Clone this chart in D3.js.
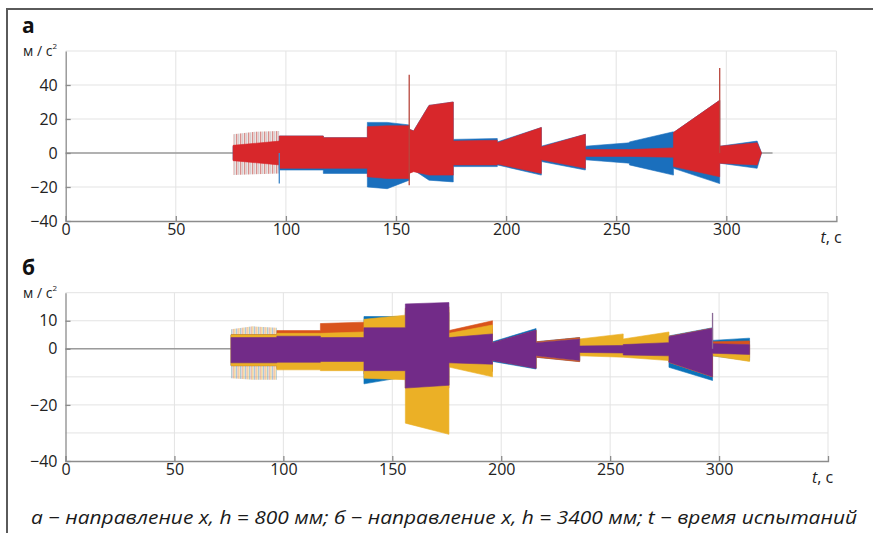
<!DOCTYPE html>
<meta charset="utf-8">
<style>
    body { margin: 0; background: #fff; }
    svg { display: block; font-family: "Open Sans", sans-serif; }
    .grid line { stroke: #e3e3e3; stroke-width: 1; }
    .axis path, .axis line { stroke: #8c8c8c; stroke-width: 1.3; }
    .axis text { font-size: 16px; fill: #222; font-family: "Open Sans", sans-serif; }
</style>
<body>
<svg width="873" height="533"></svg>
<script src="https://d3js.org/d3.v7.min.js"></script>
<script>
    // ---- panel a : x direction, h = 800 mm ----
    const tA      = [76, 97, 97, 117, 117, 137, 137, 146, 156, 156, 158, 165, 176, 176, 196, 196, 216, 216, 236, 236, 256, 256, 276, 276, 297, 297, 314, 316];
    const blueHiA = [4, 6, 10, 10, 9, 9, 18, 18, 16.5, 14, 13, 28, 30, 8, 8.5, 6.5, 15, 4, 11, 4, 6, 6.5, 12.5, 12, 31, 4, 7, 0];
    const blueLoA = [-4, -6, -10, -10, -12, -12, -20, -21, -16, -12, -10, -16, -17, -8, -8, -7, -13, -5, -10, -4, -6, -7, -13, -9, -18, -6, -9, 0];
    const redHiA  = [4.5, 7, 10, 10, 9, 9, 15.5, 16, 16, 14, 13, 28, 30, 7, 7.5, 6, 15, 3.5, 11, 2, 2, 2, 3, 12, 31, 4, 6, 0];
    const redLoA  = [-4.5, -7, -9, -9, -9, -9, -14, -15, -15, -12, -11, -13, -13, -7, -7, -6.5, -12, -4, -9, -2, -2, -2, -2.5, -8, -14, -6, -7, 0];
    // sparse spiky start of the record
    const burstTA  = [76, 86, 97];
    const burstHiA = [11, 12.5, 13];
    const burstLoA = [-13, -12.5, -12];
    // single spikes
    const spikeTA   = [97, 156, 297];
    const spikeHiA  = [0, 46, 50];
    const spikeLoA  = [-18, -19, 0];
    const spikeSerA = ["blue", "red", "red"];
    const ticksXA = [0, 50, 100, 150, 200, 250, 300];
    const ticksYA = [-40, -20, 0, 20, 40];

    // ---- panel b : x direction, h = 3400 mm ----
    const tB        = [76, 97, 97, 117, 117, 137, 137, 156, 156, 176, 176, 196, 196, 216, 216, 236, 236, 256, 256, 277, 277, 297, 297, 314];
    const blueHiB   = [5, 5, 5, 5, 5, 5.5, 11.5, 11.5, 13, 13, 5, 7, 2.5, 7.2, 2.5, 4, 2, 2.5, 2, 3, 4.6, 7.5, 3, 3.8];
    const blueLoB   = [-6, -6, -6, -6, -6, -6, -12.5, -10, -14, -13, -6, -8, -4.5, -7.2, -3, -4.5, -2, -2.5, -2.5, -3, -6.6, -11.3, -2.5, -4.2];
    const orangeHiB = [5, 5, 6.5, 6.5, 9, 9.5, 9, 9, 14.5, 15, 6.5, 10, 2, 6.5, 2.5, 4, 1.5, 2, 2, 2.5, 4.4, 7.3, 2.5, 2.8];
    const orangeLoB = [-6, -6, -7, -7, -7, -7, -9, -9, -14, -14, -6, -8, -4, -6.8, -3, -4.6, -2, -2, -2.2, -2.5, -4.8, -10, -2, -3.2];
    const yellowHiB = [5, 5, 5.5, 5.5, 5.5, 6, 10.5, 12, 14, 14, 5.5, 8.5, 2, 6.5, 2.2, 3.5, 3.5, 5.3, 3.5, 6, 4.4, 7.3, 1.5, 1.5];
    const yellowLoB = [-6, -6, -7.5, -7.5, -7.8, -7.8, -10.5, -11, -26.5, -30.5, -6.5, -10, -4, -6.8, -2.5, -4.2, -2.5, -3, -3, -4.2, -4.8, -10, -2.5, -4.5];
    const purpleHiB = [4, 4, 4.5, 4.5, 4, 4, 7.5, 7.5, 16, 16.5, 4, 5.3, 2.2, 6.7, 2.2, 3.5, 1, 1.2, 1.5, 2.2, 4.4, 7.3, 1.8, 1.5];
    const purpleLoB = [-5, -5, -4.8, -4.8, -4.5, -4.5, -7.8, -7.8, -14, -13, -5, -5.5, -4.2, -7, -2.5, -4.2, -1.3, -1.5, -2.2, -2.5, -4.8, -10, -1.6, -2];
    const burstTB  = [76, 86, 97];
    const burstHiB = [7, 8, 7.5];
    const burstLoB = [-10.5, -11, -11];
    const spikeTB   = [297];
    const spikeHiB  = [12.8];
    const spikeLoB  = [0];
    const spikeSerB = ["purple"];
    const ticksXB = [0, 50, 100, 150, 200, 250, 300];
    const ticksYB = [-40, -20, 0, 10];

    const colors = {
        blue: "#1a6fbd", red: "#d8272b",
        blueB: "#0b72b9", orange: "#d9541c", yellow: "#ebb026", purple: "#722b88"
    };

    const svg = d3.select("svg");
    svg.append("rect").attr("width", 873).attr("height", 533).attr("fill", "#fff");

    // frame (only top and left edges show)
    svg.append("path").attr("d", "M7,533 V9 H873")
        .attr("fill", "none").attr("stroke", "#5a5a5a").attr("stroke-width", 2);

    // striped fills for the spiky start
    const defs = svg.append("defs");
    const pa = defs.append("pattern").attr("id", "stripesA")
        .attr("patternUnits", "userSpaceOnUse").attr("width", 4).attr("height", 10);
    pa.append("rect").attr("x", 0.3).attr("width", 1).attr("height", 10).attr("fill", "#b8352f").attr("opacity", 0.8);
    pa.append("rect").attr("x", 2.4).attr("width", 0.9).attr("height", 10).attr("fill", "#8f7676").attr("opacity", 0.6);
    const pb = defs.append("pattern").attr("id", "stripesB")
        .attr("patternUnits", "userSpaceOnUse").attr("width", 4.5).attr("height", 10);
    pb.append("rect").attr("x", 0.3).attr("width", 1).attr("height", 10).attr("fill", "#e8b13a").attr("opacity", 0.7);
    pb.append("rect").attr("x", 1.8).attr("width", 1).attr("height", 10).attr("fill", "#4f95c2").attr("opacity", 0.6);
    pb.append("rect").attr("x", 3.3).attr("width", 1).attr("height", 10).attr("fill", "#d9744a").attr("opacity", 0.6);

    function panel(opt) {
        const x = d3.scaleLinear().domain([0, 350]).range(opt.xr);
        const y = d3.scaleLinear().domain(opt.yd).range(opt.yr);
        const g = svg.append("g");

        // grid
        const grid = g.append("g").attr("class", "grid");
        grid.selectAll(".gx").data(d3.range(50, 351, 50)).join("line")
            .attr("x1", d => x(d)).attr("x2", d => x(d))
            .attr("y1", opt.yr[0]).attr("y2", opt.yr[1]);
        grid.selectAll(".gy").data(opt.gridY).join("line")
            .attr("x1", opt.xr[0]).attr("x2", opt.xr[1])
            .attr("y1", d => y(d)).attr("y2", d => y(d));

        // baseline before / after the test
        opt.baseline.forEach(b => {
            g.append("line")
                .attr("x1", x(b[0])).attr("x2", x(b[1]))
                .attr("y1", y(0)).attr("y2", y(0))
                .attr("stroke", "#9b9b9b").attr("stroke-width", 1.5);
        });

        // burst envelope
        const bi = d3.range(opt.burst.t.length);
        g.append("path")
            .attr("d", d3.area()
                .x(i => x(opt.burst.t[i]))
                .y0(i => y(opt.burst.lo[i]))
                .y1(i => y(opt.burst.hi[i]))(bi))
            .attr("fill", opt.burst.fill);

        // series envelopes
        opt.series.forEach(s => {
            const idx = d3.range(opt.t.length);
            g.append("path")
                .attr("d", d3.area()
                    .x(i => x(opt.t[i]))
                    .y0(i => y(s.lo[i]))
                    .y1(i => y(s.hi[i]))(idx))
                .attr("fill", s.color)
                .attr("stroke", s.color).attr("stroke-width", 0.6);
        });

        // spikes
        opt.spikes.t.forEach((t, i) => {
            g.append("line")
                .attr("x1", x(t)).attr("x2", x(t))
                .attr("y1", y(opt.spikes.lo[i])).attr("y2", y(opt.spikes.hi[i]))
                .attr("stroke", opt.spikes.color[i]).attr("stroke-width", 1.3);
        });

        // axes
        g.append("g").attr("class", "axis")
            .attr("transform", `translate(0,${opt.yr[0]})`)
            .call(d3.axisBottom(x).tickValues(opt.ticksX).tickSize(-5).tickSizeOuter(-5).tickPadding(3));
        g.append("g").attr("class", "axis")
            .attr("transform", `translate(${opt.xr[0]},0)`)
            .call(d3.axisLeft(y).tickValues(opt.ticksY).tickSize(-5).tickSizeOuter(0).tickPadding(8));

        // labels
        g.append("text").attr("x", 22).attr("y", opt.yr[1] - 18)
            .attr("font-size", 21).attr("font-weight", "bold").attr("fill", "#111")
            .text(opt.letter);
        const u = g.append("text").attr("x", 23).attr("y", opt.yr[1] + 5)
            .attr("font-size", 14).attr("fill", "#222");
        u.append("tspan").text("м / с");
        u.append("tspan").attr("font-size", 8).attr("dy", -7).text("2");
        const tl = g.append("text").attr("x", opt.xr[1] - 16).attr("y", opt.yr[0] + 22)
            .attr("font-size", 16).attr("fill", "#222");
        tl.append("tspan").attr("font-style", "italic").text("t");
        tl.append("tspan").text(", с");
    }

    panel({
        xr: [65.7, 836.4], yd: [-40, 60], yr: [221, 51],
        gridY: [-20, 0, 20, 40, 60],
        ticksX: ticksXA, ticksY: ticksYA, letter: "а",
        t: tA,
        baseline: [[0, 76.5], [314, 321]],
        burst: { t: burstTA, hi: burstHiA, lo: burstLoA, fill: "url(#stripesA)" },
        series: [
            { color: colors.blue, hi: blueHiA, lo: blueLoA },
            { color: colors.red, hi: redHiA, lo: redLoA }
        ],
        spikes: { t: spikeTA, hi: spikeHiA, lo: spikeLoA,
            color: spikeSerA.map(s => s === "blue" ? "#3f86c8" : "#b8473d") }
    });

    panel({
        xr: [65.5, 828], yd: [-40, 20], yr: [461, 292.7],
        gridY: [-30, -20, -10, 0, 10, 20],
        ticksX: ticksXB, ticksY: ticksYB, letter: "б",
        t: tB,
        baseline: [[0, 76.5]],
        burst: { t: burstTB, hi: burstHiB, lo: burstLoB, fill: "url(#stripesB)" },
        series: [
            { color: colors.blueB, hi: blueHiB, lo: blueLoB },
            { color: colors.orange, hi: orangeHiB, lo: orangeLoB },
            { color: colors.yellow, hi: yellowHiB, lo: yellowLoB },
            { color: colors.purple, hi: purpleHiB, lo: purpleLoB }
        ],
        spikes: { t: spikeTB, hi: spikeHiB, lo: spikeLoB,
            color: spikeSerB.map(() => "#8a6a96") }
    });

    // caption
    svg.append("text")
        .attr("x", 31).attr("y", 524)
        .attr("font-size", 18).attr("font-style", "italic").attr("fill", "#1a1a1a")
        .attr("textLength", 826).attr("lengthAdjust", "spacingAndGlyphs")
        .text("а − направление x, h = 800 мм; б − направление x, h = 3400 мм; t − время испытаний");
</script>
</body>
